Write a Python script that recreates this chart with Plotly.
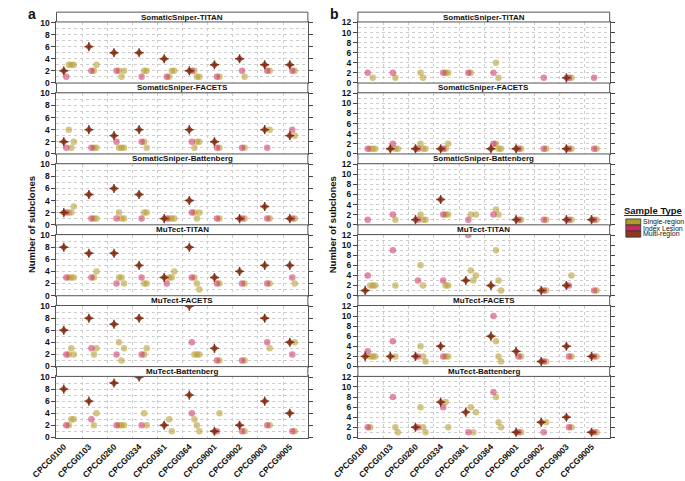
import plotly.graph_objects as go

patients = ["CPCG0100", "CPCG0103", "CPCG0260", "CPCG0334", "CPCG0361",
            "CPCG0364", "CPCG9001", "CPCG9002", "CPCG9003", "CPCG9005"]
panel_titles = ["SomaticSniper-TITAN", "SomaticSniper-FACETS", "SomaticSniper-Battenberg",
                "MuTect-TITAN", "MuTect-FACETS", "MuTect-Battenberg"]
N = None

# ---------------- panel a ----------------
a_ss_titan_multi = [2, 6, 5, 5, 4, 2, 3, 4, 3, 3]
a_ss_titan_index = [1, 2, 2, 1, 1, 2, 1, 2, 2, 2]
a_ss_titan_single = [[3, 3, 3], [2, 3], [2, 1, 2], [2, 2], [1, 2, 2], [2, 1, 1], [1], [1], [2], [2]]

a_ss_facets_multi = [2, 4, 3, 4, N, 4, 2, N, 4, 3]
a_ss_facets_index = [1, 1, 2, 2, N, 2, 1, 1, 1, 4]
a_ss_facets_single = [[4, 1, 2], [1, 1], [1, 1, 1], [2, 1], [], [1, 2, 2], [1], [1], [4], [3]]

a_ss_batt_multi = [2, 5, 6, 5, 1, 4, N, 1, 3, 1]
a_ss_batt_index = [2, 1, 1, 1, 1, 2, 1, 1, 1, 1]
a_ss_batt_single = [[2, 2, 3], [1, 1], [2, 1, 1], [2, 2], [1, 1, 1], [2, 1, 2], [1], [1], [1], [1]]

a_mu_titan_multi = [8, 7, 7, 5, 3, 8, 3, 4, 5, 5]
a_mu_titan_index = [3, 3, 2, 3, 2, 3, 2, 2, 2, 3]
a_mu_titan_single = [[3, 3, 3], [3, 4], [3, 3, 2], [2, 2], [3, 3, 4], [3, 2, 1], [2], [2], [2], [2]]

a_mu_facets_multi = [6, 8, 7, 8, N, 10, 3, N, 8, 4]
a_mu_facets_index = [2, 3, 2, 2, N, 4, 1, 1, 4, 2]
a_mu_facets_single = [[2, 3, 2], [2, 3], [4, 1, 3], [2, 3], [], [2, 2, 2], [1], [1], [3], [4]]

a_mu_batt_multi = [8, 6, 9, 10, 2, 7, 1, 2, 6, 4]
a_mu_batt_index = [2, 3, 2, 2, N, 4, 1, 1, 2, 1]
a_mu_batt_single = [[2, 3, 3], [2, 4], [2, 2, 2], [4, 2], [3, 1], [3, 2, 1], [4], [1], [2], [1]]

# ---------------- panel b ----------------
b_ss_titan_multi = [N, N, N, N, N, N, N, N, 1, N]
b_ss_titan_index = [2, 2, N, 2, 2, 2, N, 1, 1, 1]
b_ss_titan_single = [[N, 1], [1], [2, 1], [2, 2], [2], [4, 1], [], [], [1], []]

b_ss_facets_multi = [N, 1, 1, 1, N, 1, 1, N, 1, N]
b_ss_facets_index = [1, 2, 1, 1, N, 2, 1, 1, 1, 1]
b_ss_facets_single = [[1, 1, 1], [1, 1], [2, 1, 1], [1, 2], [], [2, 1, 1], [1], [1], [1], [1]]

b_ss_batt_multi = [N, N, 1, 5, N, N, 1, N, 1, 1]
b_ss_batt_index = [1, 2, 1, 2, 1, 2, 1, 1, 1, 1]
b_ss_batt_single = [[], [1], [2, 1, 1], [2, 2], [2, N, 2], [3, 2], [1], [1], [1], [1]]

b_mu_titan_multi = [1, N, N, N, 3, 2, N, 1, 2, N]
b_mu_titan_index = [4, 9, 3, 3, 12, N, N, 1, 2, 1]
b_mu_titan_single = [[2, 2, 2], [2], [6, 2], [2, 2], [5, 3, 4], [9, 3, 1], [], [1], [4], [1]]

b_mu_facets_multi = [2, 2, 2, 4, N, 6, 3, 1, 4, 2]
b_mu_facets_index = [3, 5, 2, 2, N, 10, 2, 1, 2, 2]
b_mu_facets_single = [[2, 2, 2], [2], [4, 2, 1], [2, 2], [], [5, 2, 1], [2], [1], [2], [2]]

b_mu_batt_multi = [N, N, 2, 7, 5, N, 1, 3, 4, 1]
b_mu_batt_index = [2, 8, 2, 6, 1, 9, 1, 1, 2, 1]
b_mu_batt_single = [[2], [2, 1], [6, 2, 1], [7, 2], [6, 1, 5], [8, 3, 2], [1], [3], [2], [1]]

panels_a = [
    (a_ss_titan_multi, a_ss_titan_index, a_ss_titan_single),
    (a_ss_facets_multi, a_ss_facets_index, a_ss_facets_single),
    (a_ss_batt_multi, a_ss_batt_index, a_ss_batt_single),
    (a_mu_titan_multi, a_mu_titan_index, a_mu_titan_single),
    (a_mu_facets_multi, a_mu_facets_index, a_mu_facets_single),
    (a_mu_batt_multi, a_mu_batt_index, a_mu_batt_single),
]
panels_b = [
    (b_ss_titan_multi, b_ss_titan_index, b_ss_titan_single),
    (b_ss_facets_multi, b_ss_facets_index, b_ss_facets_single),
    (b_ss_batt_multi, b_ss_batt_index, b_ss_batt_single),
    (b_mu_titan_multi, b_mu_titan_index, b_mu_titan_single),
    (b_mu_facets_multi, b_mu_facets_index, b_mu_facets_single),
    (b_mu_batt_multi, b_mu_batt_index, b_mu_batt_single),
]

legend_labels = ["Single-region", "Index Lesion", "Multi-region"]
legend_colors = ["#B09A2A", "#C62A5E", "#8A3A1C"]
col_single = "rgba(185,160,55,0.6)"
col_index = "rgba(205,45,95,0.55)"
col_multi = "rgba(140,55,25,0.85)"
col_multi_line = "rgba(125,45,20,0.9)"

W, H = 685, 481
FONT = "Liberation Sans, Arial, Helvetica, sans-serif"
SLOT = 0.1  # x offset per sample within a patient

col_x = [(31.7, 293.0), (345.0, 606.7)]
TOP0, PH, STRIP = 7.3, 72.4, 10.0

def px(x):
    return x / W

def py(y):
    return 1 - y / H

fig = go.Figure()
layout = dict(width=W, height=H, margin=dict(l=0, r=0, t=0, b=0), autosize=False,
              paper_bgcolor="white", plot_bgcolor="white", showlegend=False,
              font=dict(family=FONT, color="#111"))
shapes, annotations = [], []

for c, panels in enumerate([panels_a, panels_b]):
    ymax = 10 if c == 0 else 12
    for r, (mv, iv, sv) in enumerate(panels):
        idx = r * 2 + c + 1
        xa = "x" if idx == 1 else f"x{idx}"
        ya = "y" if idx == 1 else f"y{idx}"
        stop = TOP0 + PH * r
        ptop = stop + STRIP
        pbot = TOP0 + PH * (r + 1)
        x0, x1 = col_x[c]

        # single-region
        xs, ys = [], []
        for i, lst in enumerate(sv):
            for j, v in enumerate(lst):
                if v is not None:
                    xs.append(i + (2 + j) * SLOT)
                    ys.append(v)
        fig.add_trace(go.Scatter(x=xs, y=ys, mode="markers", xaxis=xa, yaxis=ya,
                                 marker=dict(symbol="circle", size=6.5, color=col_single, line=dict(width=0)),
                                 hoverinfo="skip"))
        # index lesion
        xs = [i + SLOT for i, v in enumerate(iv) if v is not None]
        ys = [v for v in iv if v is not None]
        fig.add_trace(go.Scatter(x=xs, y=ys, mode="markers", xaxis=xa, yaxis=ya,
                                 marker=dict(symbol="circle", size=6.5, color=col_index, line=dict(width=0)),
                                 hoverinfo="skip"))
        # multi-region
        xs = [i for i, v in enumerate(mv) if v is not None]
        ys = [v for v in mv if v is not None]
        fig.add_trace(go.Scatter(x=xs, y=ys, mode="markers", xaxis=xa, yaxis=ya,
                                 marker=dict(symbol="diamond", size=6, color=col_multi, line=dict(width=0)),
                                 hoverinfo="skip"))
        fig.add_trace(go.Scatter(x=xs, y=ys, mode="markers", xaxis=xa, yaxis=ya,
                                 marker=dict(symbol="cross-thin-open", size=6.5, color=col_multi_line,
                                             line=dict(width=1.4, color=col_multi_line)),
                                 hoverinfo="skip"))

        bottom = (r == 5)
        layout["xaxis" if idx == 1 else f"xaxis{idx}"] = dict(
            domain=[px(x0), px(x1)], anchor=ya, range=[-0.29, 9.72],
            tickmode="array", tickvals=list(range(len(patients))), ticktext=patients,
            showticklabels=bottom, tickangle=-45, ticks="",
            tickfont=dict(size=8.5, family=FONT, color="#111", weight="bold"),
            showgrid=False, zeroline=False,
            minor=dict(tickmode="array", tickvals=[k + 0.73 for k in range(len(patients) - 1)],
                       showgrid=True, gridcolor="#cdcdcd", griddash="dot", gridwidth=1, ticks=""),
            showline=True, mirror=True, linecolor="#555", linewidth=1, fixedrange=True)
        layout["yaxis" if idx == 1 else f"yaxis{idx}"] = dict(
            domain=[py(pbot), py(ptop)], anchor=xa, range=[-0.03, ymax + 0.1],
            tickmode="linear", tick0=0, dtick=2, ticks="outside", ticklen=4,
            tickcolor="#444", tickwidth=1,
            tickfont=dict(size=8.5, family=FONT, color="#111", weight="bold"),
            showgrid=True, gridcolor="#cdcdcd", griddash="dot", gridwidth=1,
            minor=dict(dtick=1, showgrid=True, gridcolor="#cdcdcd", griddash="dot", gridwidth=1, ticks=""),
            showline=True, mirror="ticks", linecolor="#555", linewidth=1,
            zeroline=False, fixedrange=True)

        # strip
        shapes.append(dict(type="rect", xref="paper", yref="paper",
                           x0=px(x0), x1=px(x1), y0=py(ptop), y1=py(stop),
                           fillcolor="white", line=dict(color="#555", width=1)))
        annotations.append(dict(text="<b>" + panel_titles[r] + "</b>", xref="paper", yref="paper",
                                x=px((x0 + x1) / 2), y=py((stop + ptop) / 2), showarrow=False,
                                xanchor="center", yanchor="middle",
                                font=dict(size=8, family=FONT, color="#111")))

# axis titles
for xt in [6, 318]:
    annotations.append(dict(text="<b>Number of subclones</b>", xref="paper", yref="paper",
                            x=px(xt), y=py(224), textangle=-90, showarrow=False,
                            xanchor="center", yanchor="middle",
                            font=dict(size=9.5, family=FONT, color="#111")))
# panel letters
for txt, xl in [("a", 6), ("b", 321)]:
    annotations.append(dict(text="<b>" + txt + "</b>", xref="paper", yref="paper",
                            x=px(xl), y=py(9), showarrow=False, xanchor="center", yanchor="middle",
                            font=dict(size=14, family=FONT, color="#111")))

# legend
annotations.append(dict(text="<b>Sample Type</b>", xref="paper", yref="paper",
                        x=px(652), y=py(209.5), showarrow=False, xanchor="center", yanchor="middle",
                        font=dict(size=9.5, family=FONT, color="#111")))
shapes.append(dict(type="line", xref="paper", yref="paper", x0=px(621.7), x1=px(681.7),
                   y0=py(215), y1=py(215), line=dict(color="#333", width=1)))
for k, (lab, colr) in enumerate(zip(legend_labels, legend_colors)):
    yt = 218.5 + k * 6.2
    shapes.append(dict(type="rect", xref="paper", yref="paper", x0=px(623.5), x1=px(639.0),
                       y0=py(yt + 6.2), y1=py(yt), fillcolor=colr, line=dict(color="#333", width=0.8)))
    annotations.append(dict(text=lab, xref="paper", yref="paper", x=px(640.0), y=py(yt + 3.1),
                            showarrow=False, xanchor="left", yanchor="middle", borderpad=0,
                            font=dict(size=7, family=FONT, color="#111")))

layout["shapes"] = shapes
layout["annotations"] = annotations
fig.update_layout(**layout)
fig.write_html("out.html", config={"displayModeBar": False},
               post_script="document.body.style.margin='0px';")
